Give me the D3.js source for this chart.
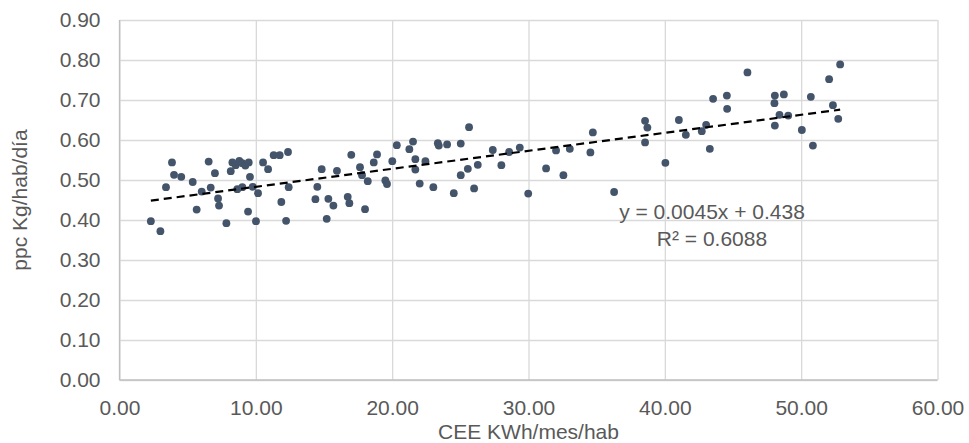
<!DOCTYPE html>
<html>
<head>
<meta charset="utf-8">
<script src="https://cdn.jsdelivr.net/npm/d3@7/dist/d3.min.js"></script>
<style>
  html, body { margin: 0; padding: 0; background: #ffffff; }
  svg { display: block; font-family: "Liberation Sans", Arial, sans-serif; }
</style>
</head>
<body>
<svg id="chart" width="969" height="443"></svg>
<script>
// ---- data ----
const cee = [
  2.3, 3.0, 3.85, 4.0, 4.53, 3.41, 5.37, 5.66, 6.03, 6.54,
  7.0, 6.69, 7.23, 7.3, 7.84, 8.16, 8.28, 8.52, 8.79, 9.01,
  9.23, 9.48, 9.57, 8.64, 9.01, 9.77, 10.16, 9.43, 10.01, 10.53,
  10.9, 11.31, 11.75, 12.36, 12.41, 11.87, 12.22, 14.83, 14.51, 14.37,
  15.32, 15.2, 15.69, 15.95, 16.74, 16.86, 17.0, 17.64, 17.79, 18.21,
  18.01, 18.65, 18.89, 19.5, 19.62, 20.01, 20.34, 21.26, 21.53, 21.7,
  21.7, 22.02, 22.44, 23.02, 23.35, 23.42, 24.03, 24.52, 25.03, 25.64,
  25.03, 25.55, 26.01, 26.28, 27.38, 28.01, 28.58, 29.36, 29.98, 31.29,
  32.02, 33.03, 32.56, 34.54, 34.72, 36.28, 38.55, 38.72, 38.55, 40.04,
  41.03, 41.54, 42.71, 43.03, 43.3, 43.54, 44.55, 44.57, 46.06, 48.07,
  48.73, 48.04, 48.41, 49.05, 48.07, 50.05, 50.71, 50.86, 52.05, 52.86,
  52.33, 52.72
];
const ppc = [
  0.397, 0.372, 0.544, 0.513, 0.508, 0.482, 0.495, 0.426, 0.471, 0.546,
  0.517, 0.481, 0.454, 0.436, 0.392, 0.522, 0.544, 0.537, 0.548, 0.542,
  0.536, 0.544, 0.508, 0.477, 0.482, 0.483, 0.467, 0.421, 0.397, 0.544,
  0.527, 0.562, 0.562, 0.570, 0.482, 0.445, 0.398, 0.527, 0.483, 0.452,
  0.453, 0.403, 0.436, 0.523, 0.458, 0.442, 0.563, 0.532, 0.512, 0.497,
  0.427, 0.544, 0.564, 0.499, 0.490, 0.547, 0.587, 0.577, 0.596, 0.552,
  0.526, 0.491, 0.547, 0.482, 0.592, 0.586, 0.589, 0.467, 0.591, 0.632,
  0.512, 0.528, 0.479, 0.538, 0.575, 0.537, 0.570, 0.581, 0.466, 0.529,
  0.574, 0.578, 0.512, 0.569, 0.619, 0.470, 0.648, 0.631, 0.594, 0.543,
  0.650, 0.613, 0.622, 0.638, 0.578, 0.703, 0.711, 0.678, 0.769, 0.711,
  0.714, 0.692, 0.663, 0.661, 0.636, 0.625, 0.708, 0.586, 0.752, 0.789,
  0.687, 0.653
];
const trendSlope = 0.0045;
const trendIntercept = 0.438;
const trendLabel = "y = 0.0045x + 0.438";
const r2Label = "R\u00B2 = 0.6088";
const xTicks = [0, 10, 20, 30, 40, 50, 60];
const yTicks = [0, 0.1, 0.2, 0.3, 0.4, 0.5, 0.6, 0.7, 0.8, 0.9];
const xTitle = "CEE KWh/mes/hab";
const yTitle = "ppc Kg/hab/d\u00EDa";

(function () {
  // ---- layout ----
  const pLeft = 119.5, pRight = 937.5, pTop = 20, pBottom = 380;
  const svg = d3.select("#chart");
  const x = d3.scaleLinear().domain([0, 60]).range([pLeft, pRight]);
  const y = d3.scaleLinear().domain([0, 0.9]).range([pBottom, pTop]);
  const textColor = "#595959";
  const gridColor = "#d9d9d9";
  const fontSize = 21;
  const ff = "'Liberation Sans', Arial, sans-serif";

  // y axis with gridlines
  const yAxis = svg.append("g")
    .attr("transform", `translate(${pLeft},0)`)
    .call(d3.axisLeft(y).tickValues(yTicks).tickFormat(d3.format(".2f"))
      .tickSize(-(pRight - pLeft)).tickPadding(19));
  yAxis.select(".domain").remove();
  yAxis.selectAll(".tick line").attr("stroke", gridColor).attr("stroke-width", 1.3);
  yAxis.selectAll(".tick text").attr("fill", textColor).attr("font-size", fontSize)
    .attr("font-family", ff);

  // x axis with gridlines
  const xAxis = svg.append("g")
    .attr("transform", `translate(0,${pBottom})`)
    .call(d3.axisBottom(x).tickValues(xTicks).tickFormat(d3.format(".2f"))
      .tickSize(-(pBottom - pTop)).tickPadding(20));
  xAxis.select(".domain").remove();
  xAxis.selectAll(".tick line").attr("stroke", gridColor).attr("stroke-width", 1.3);
  xAxis.selectAll(".tick text").attr("fill", textColor).attr("font-size", fontSize)
    .attr("font-family", ff);

  // axis lines
  svg.append("line").attr("x1", pLeft).attr("x2", pLeft).attr("y1", pTop).attr("y2", pBottom)
    .attr("stroke", "#bfbfbf").attr("stroke-width", 1.3);
  svg.append("line").attr("x1", pLeft).attr("x2", pRight).attr("y1", pBottom).attr("y2", pBottom)
    .attr("stroke", "#bfbfbf").attr("stroke-width", 1.3);

  // points
  const pts = cee.map((v, i) => ({ x: v, y: ppc[i] }));
  svg.append("g").selectAll("circle").data(pts).join("circle")
    .attr("cx", d => x(d.x)).attr("cy", d => y(d.y)).attr("r", 3.9)
    .attr("fill", "#44546a");

  // trend line
  const xMin = d3.min(cee), xMax = d3.max(cee);
  svg.append("line")
    .attr("x1", x(xMin)).attr("y1", y(trendIntercept + trendSlope * xMin))
    .attr("x2", x(xMax)).attr("y2", y(trendIntercept + trendSlope * xMax))
    .attr("stroke", "#000").attr("stroke-width", 2.2).attr("stroke-dasharray", "8,5");

  // trend labels
  svg.append("text").attr("x", 712).attr("y", 219).attr("text-anchor", "middle")
    .attr("fill", textColor).attr("font-size", 21).text(trendLabel);
  svg.append("text").attr("x", 712).attr("y", 246).attr("text-anchor", "middle")
    .attr("fill", textColor).attr("font-size", 21).text(r2Label);

  // axis titles
  svg.append("text").attr("x", (pLeft + pRight) / 2).attr("y", 439).attr("text-anchor", "middle")
    .attr("fill", textColor).attr("font-size", fontSize).text(xTitle);
  svg.append("text").attr("transform", `translate(27,${(pTop + pBottom) / 2}) rotate(-90)`)
    .attr("text-anchor", "middle").attr("fill", textColor).attr("font-size", fontSize).text(yTitle);
})();
</script>
</body>
</html>
